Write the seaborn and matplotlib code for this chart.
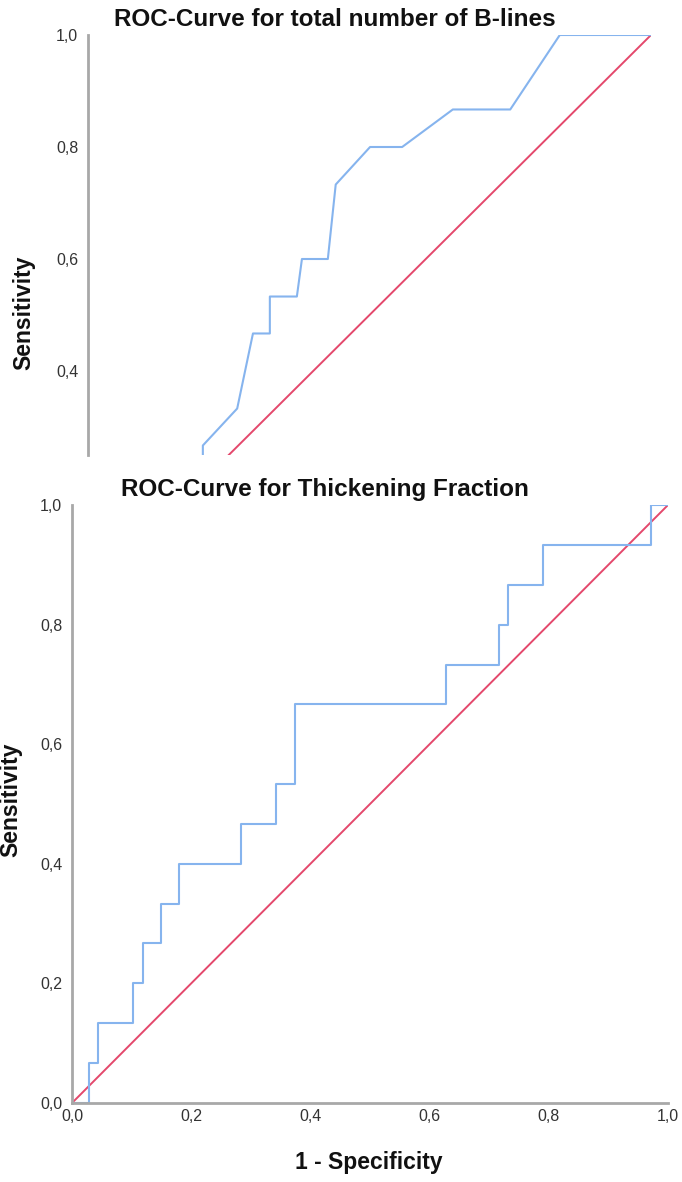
"""
Two ROC curves stacked: total number of B-lines (upper panel, cut off at the
bottom as in the source) and thickening fraction (lower panel).
"""

import matplotlib
matplotlib.use("Agg")
import matplotlib.pyplot as plt
import pandas as pd
import seaborn as sns

# upper panel: total number of B-lines (only the part above ~0.25 is visible)
BLINES_FPR = [0.204, 0.204, 0.265, 0.293, 0.323, 0.323, 0.371, 0.380, 0.426,
              0.440, 0.501, 0.558, 0.648, 0.750, 0.838, 1.000]
BLINES_TPR = [0.200, 0.267, 0.333, 0.467, 0.467, 0.533, 0.533, 0.600, 0.600,
              0.733, 0.800, 0.800, 0.867, 0.867, 1.000, 1.000]

# lower panel: thickening fraction (step curve)
TF_FPR = [0.000, 0.029, 0.029, 0.044, 0.044, 0.103, 0.103, 0.119, 0.119,
          0.149, 0.149, 0.179, 0.179, 0.283, 0.283, 0.343, 0.343, 0.374,
          0.374, 0.627, 0.627, 0.717, 0.717, 0.732, 0.732, 0.791, 0.791,
          0.971, 0.971, 1.000]
TF_TPR = [0.000, 0.000, 0.067, 0.067, 0.133, 0.133, 0.200, 0.200, 0.267,
          0.267, 0.333, 0.333, 0.400, 0.400, 0.467, 0.467, 0.533, 0.533,
          0.667, 0.667, 0.733, 0.733, 0.800, 0.800, 0.867, 0.867, 0.933,
          0.933, 1.000, 1.000]

REF_LINE = [0.0, 1.0]
TICKS = [0.0, 0.2, 0.4, 0.6, 0.8, 1.0]
TICK_LABELS = ["0,0", "0,2", "0,4", "0,6", "0,8", "1,0"]

BLUE = "#86b4ee"
RED = "#e4486c"
AXIS_GREY = "#a8a8a8"

sns.set_theme(style="white")
plt.rcParams["font.family"] = ["Liberation Sans", "DejaVu Sans"]

W, H = 682, 1182
fig = plt.figure(figsize=(W / 100, H / 100), dpi=100)


def px_axes(left, top, right, bottom):
    return fig.add_axes([left / W, 1 - bottom / H, (right - left) / W, (bottom - top) / H])


def draw_roc(ax, fpr, tpr):
    sns.lineplot(x=REF_LINE, y=REF_LINE, ax=ax, color=RED, linewidth=1.4,
                 estimator=None, sort=False)
    curve = pd.DataFrame({"fpr": fpr, "tpr": tpr})
    sns.lineplot(data=curve, x="fpr", y="tpr", ax=ax, color=BLUE, linewidth=1.5,
                 estimator=None, sort=False)
    ax.set_xlim(0, 1)
    ax.set_yticks(TICKS)
    ax.set_yticklabels(TICK_LABELS)
    ax.tick_params(length=0, labelsize=11.5, labelcolor="#333333", pad=7)
    for side in ("top", "right"):
        ax.spines[side].set_visible(False)
    ax.spines["left"].set_color(AXIS_GREY)
    ax.spines["left"].set_linewidth(2)
    ax.set_xlabel("")
    ax.set_ylabel("")


# upper panel, cropped at the bottom
ax1 = px_axes(88, 35, 651, 455)
draw_roc(ax1, BLINES_FPR, BLINES_TPR)
ax1.set_ylim(0.25, 1.0)
ax1.spines["bottom"].set_visible(False)
ax1.set_xticks([])

# lower panel
ax2 = px_axes(72, 505, 668, 1103)
draw_roc(ax2, TF_FPR, TF_TPR)
ax2.set_ylim(0, 1)
ax2.set_xticks(TICKS)
ax2.set_xticklabels(TICK_LABELS)
ax2.tick_params(axis="x", pad=4)
ax2.spines["bottom"].set_color(AXIS_GREY)
ax2.spines["bottom"].set_linewidth(2)

bold = dict(fontweight="bold", color="#111111")
fig.text(335 / W, 1 - 19 / H, "ROC-Curve for total number of B-lines",
         ha="center", va="center", fontsize=17.5, **bold)
fig.text(325 / W, 1 - 489 / H, "ROC-Curve for Thickening Fraction",
         ha="center", va="center", fontsize=17.5, **bold)
fig.text(24 / W, 1 - 313 / H, "Sensitivity", rotation=90,
         ha="center", va="center", fontsize=16.5, **bold)
fig.text(11 / W, 1 - 800 / H, "Sensitivity", rotation=90,
         ha="center", va="center", fontsize=16.5, **bold)
fig.text(369 / W, 1 - 1162 / H, "1 - Specificity",
         ha="center", va="center", fontsize=16.5, **bold)

fig.savefig("out.png", dpi=100, facecolor="white")
